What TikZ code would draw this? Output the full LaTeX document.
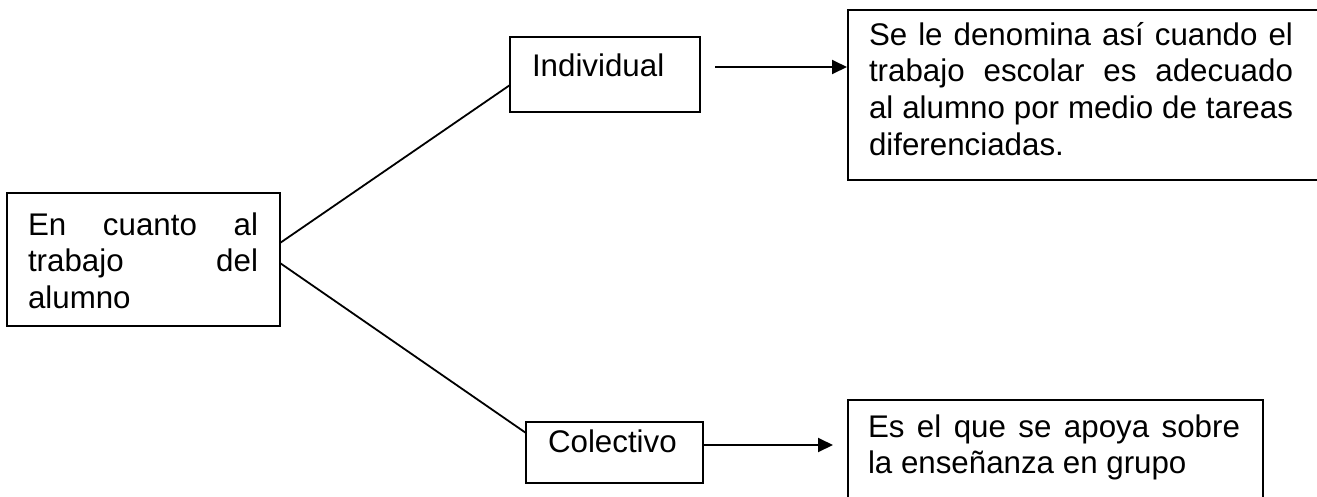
\documentclass[tikz,border=0pt]{standalone}
\usepackage{fontspec}
\setmainfont{Liberation Sans}
\usetikzlibrary{calc,arrows.meta}
\tikzset{
  box/.style={draw, line width=2pt, inner sep=0pt, outer sep=0pt, anchor=north west},
  txt/.style={inner sep=0pt, outer sep=0pt, anchor=base west, align=left, font=\fontsize{31.3}{36.8}\selectfont},
  conn/.style={line width=1.8pt},
  arr/.style={line width=1.9pt, -{Triangle[length=15pt,width=14pt]}},
}
\newcommand{\jline}[2]{\makebox[#1][s]{#2}}
\begin{document}
\begin{tikzpicture}[x=1pt,y=-1pt]
\clip (0,0) rectangle (1317,496);
\fill[white] (0,0) rectangle (1317,496);
% boxes
\node[box, minimum width=273pt, minimum height=133pt] (left) at (7,193) {};
\node[box, minimum width=190pt, minimum height=75pt] (ind) at (510,37) {};
\node[box, minimum width=177pt, minimum height=61pt] (col) at (526,422) {};
\node[box, minimum width=472pt, minimum height=170pt] (tr) at (848,10) {};
\node[box, minimum width=415pt, minimum height=130pt] (br) at (848,400) {};
% texts (base anchor = baseline of the last line)
\node[txt] (lefttxt) at ($(left.north west)+(21,115.6)$)
  {\jline{230pt}{En cuanto al}\\ \jline{230pt}{trabajo del}\\ alumno};
\node[txt] (indtxt) at ($(ind.north west)+(22,39)$) {Individual};
\node[txt] (coltxt) at ($(col.north west)+(22,30)$) {Colectivo};
\node[txt] (trtxt) at ($(tr.north west)+(21,145.4)$)
  {\jline{424pt}{Se le denomina así cuando el}\\
   \jline{424pt}{trabajo escolar es adecuado}\\
   \jline{424pt}{al alumno por medio de tareas}\\
   diferenciadas.};
\node[txt] (brtxt) at ($(br.north west)+(20,73.8)$)
  {\jline{372pt}{Es el que se apoya sobre}\\ la enseñanza en grupo};
% connectors
\draw[conn] ($(left.north east)+(0,50)$) -- ($(ind.north west)+(0,48)$);
\draw[conn] ($(left.north east)+(0,70)$) -- ($(col.north west)+(0,11)$);
\draw[arr] ($(ind.north east)+(15,30)$) -- ($(tr.north west)+(-1,57)$);
\draw[arr] ($(col.north east)+(0,23)$) -- ($(br.north west)+(-15,45)$);
\end{tikzpicture}
\end{document}
